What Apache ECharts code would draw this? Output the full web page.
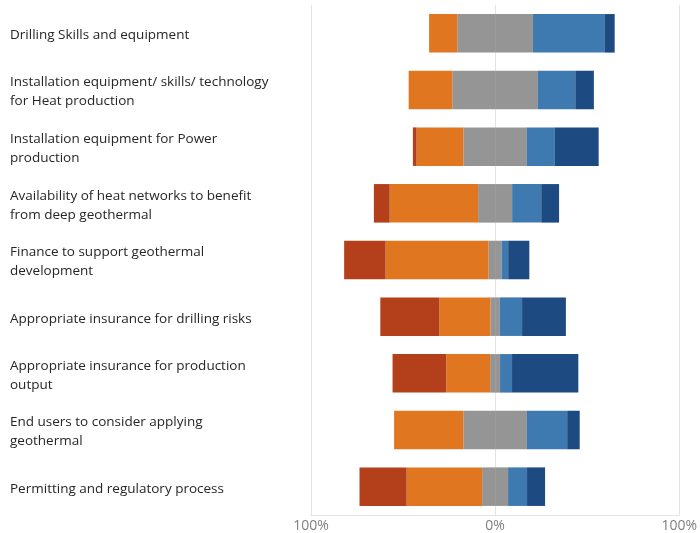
<!DOCTYPE html>
<html>
<head>
<meta charset="utf-8">
<script src="https://cdn.jsdelivr.net/npm/echarts@6/dist/echarts.min.js"></script>
<style>
  html, body { margin: 0; padding: 0; background: #ffffff; }
  #chart { width: 700px; height: 533px; }
</style>
</head>
<body>
<div id="chart"></div>
<script>
// Barriers to deep geothermal: share of responses per rating (percent)
const categories = [
  'Drilling Skills and equipment',
  'Installation equipment/ skills/ technology\nfor Heat production',
  'Installation equipment for Power\nproduction',
  'Availability of heat networks to benefit\nfrom deep geothermal',
  'Finance to support geothermal\ndevelopment',
  'Appropriate insurance for drilling risks',
  'Appropriate insurance for production\noutput',
  'End users to consider applying\ngeothermal',
  'Permitting and regulatory process'
];
const stronglyNegative = [0, 0, 2.0, 8.6, 22.5, 32.1, 29.2, 0, 25.6];
const negative         = [15.3, 23.7, 25.4, 48.0, 56.0, 27.7, 23.8, 37.6, 41.0];
const neutral          = [41.1, 46.5, 34.5, 18.5, 7.0, 5.1, 5.4, 34.5, 14.1];
const positive         = [38.8, 20.3, 15.2, 15.8, 3.6, 12.1, 6.5, 21.9, 10.3];
const stronglyPositive = [5.6, 10.1, 23.8, 9.7, 11.5, 23.8, 36.0, 6.8, 9.8];
const axisTicks = [-100, 0, 100];

const colors = {
  strongNeg: '#B3401A',
  neg: '#E07620',
  neutral: '#959595',
  pos: '#3E7AB0',
  strongPos: '#1D4A80'
};

// Neutral answers are split evenly across the zero line
const neutralLeft = neutral.map(v => -v / 2);
const neutralRight = neutral.map(v => v / 2);

function bar(name, data, color) {
  return {
    name: name,
    type: 'bar',
    stack: 'total',
    data: data,
    barCategoryGap: '32%',
    itemStyle: { color: color },
    emphasis: { disabled: true }
  };
}

const chart = echarts.init(document.getElementById('chart'), null, { renderer: 'canvas' });
chart.setOption({
  animation: false,
  backgroundColor: '#ffffff',
  grid: { left: 311, right: 17, top: 5, bottom: 17, containLabel: false },
  xAxis: {
    type: 'value',
    min: axisTicks[0],
    max: axisTicks[axisTicks.length - 1],
    interval: 100,
    axisLine: { show: true, lineStyle: { color: '#e3e3e3', width: 1 } },
    axisTick: { show: false },
    splitLine: { show: true, lineStyle: { color: '#e3e3e3', width: 1 } },
    axisLabel: {
      color: '#7f7f7f',
      fontFamily: 'Open Sans',
      fontSize: 14,
      margin: 4,
      formatter: v => Math.abs(v) + '%'
    }
  },
  yAxis: {
    type: 'category',
    inverse: true,
    data: categories,
    axisLine: { show: false },
    axisTick: { show: false },
    splitLine: { show: false },
    axisLabel: {
      align: 'left',
      margin: 301,
      color: '#262626',
      fontFamily: 'Open Sans',
      fontSize: 13.5,
      // each line sits a little below the row centre
      formatter: v => v.split('\n').map(s => '{t|' + s + '}').join('\n'),
      rich: {
        t: {
          color: '#262626',
          fontFamily: 'Open Sans',
          fontSize: 13.5,
          lineHeight: 19,
          padding: [4, 0, 0, 0]
        }
      }
    }
  },
  series: [
    bar('Neutral (left)', neutralLeft, colors.neutral),
    bar('Negative', negative.map(v => -v), colors.neg),
    bar('Strongly negative', stronglyNegative.map(v => -v), colors.strongNeg),
    bar('Neutral (right)', neutralRight, colors.neutral),
    bar('Positive', positive, colors.pos),
    bar('Strongly positive', stronglyPositive, colors.strongPos)
  ]
});
</script>
</body>
</html>
